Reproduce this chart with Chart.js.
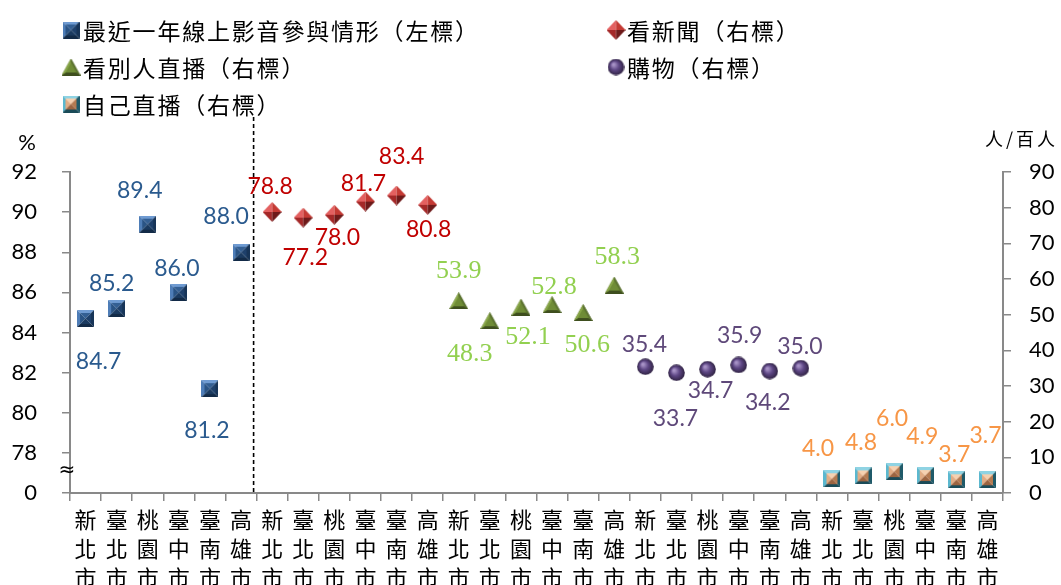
<!DOCTYPE html>
<html><head><meta charset="utf-8">
<script src="https://cdn.jsdelivr.net/npm/chart.js@4"></script>
<style>html,body{margin:0;padding:0;background:#fff;}canvas{display:block;}</style>
</head><body>
<canvas id="c" width="1061" height="585"></canvas>
<script>
// ---------- DATA ----------
const cities = ['新北市','臺北市','桃園市','臺中市','臺南市','高雄市'];
const seriesNames = ['最近一年線上影音參與情形（左標）','看新聞（右標）','看別人直播（右標）','購物（右標）','自己直播（右標）'];
const onlineAV = [84.7, 85.2, 89.4, 86.0, 81.2, 88.0];   // %, left axis
const news     = [78.8, 77.2, 78.0, 81.7, 83.4, 80.8];   // 人/百人, right axis
const watchLive= [53.9, 48.3, 52.1, 52.8, 50.6, 58.3];
const shopping = [35.4, 33.7, 34.7, 35.9, 34.2, 35.0];
const selfLive = [4.0, 4.8, 6.0, 4.9, 3.7, 3.7];
const leftTicks = [76, 78, 80, 82, 84, 86, 88, 90, 92]; // 76 shown as "0" (axis break)
const rightTicks = [0,10,20,30,40,50,60,70,80,90];

// ---------- STYLE ----------
const labelColors = ['#2A5A8E','#C00000','#92D050','#5F497A','#F79646'];
const labelOffsets = [
  [[13,43],[-5,-25],[-8,-34],[-2,-24],[-3,42],[-15,-36]],
  [[-2,-25],[2,40],[3,23],[-2,-18],[5,-39],[1,25]],
  [[0,-30],[-20,33],[7,30],[2,-18],[4,33],[3,-28]],
  [[-1,-22],[-1,46],[3,21],[1,-29],[-2,32],[-1,-22]],
  [[-14,-30],[-2,-33],[-2,-53],[-3,-39],[-2,-25],[-2,-44]]
];
const CJK = '"Noto Sans CJK TC","Noto Sans CJK SC",sans-serif';
const NUM = 'Lato, "Open Sans", sans-serif';

function mk(w,h,draw){const c=document.createElement('canvas');c.width=w;c.height=h;draw(c.getContext('2d'),w,h);return c;}
function poly(g,pts,f){g.beginPath();g.moveTo(pts[0][0],pts[0][1]);for(let i=1;i<pts.length;i++)g.lineTo(pts[i][0],pts[i][1]);g.closePath();g.fillStyle=f;g.fill();}
function bevelSquare(s,b,c){
  return mk(s,s,g=>{
    poly(g,[[0,0],[s,0],[s-b,b],[b,b]],c[0]);
    poly(g,[[0,0],[b,b],[b,s-b],[0,s]],c[1]);
    poly(g,[[s,0],[s,s],[s-b,s-b],[s-b,b]],c[2]);
    poly(g,[[0,s],[b,s-b],[s-b,s-b],[s,s]],c[3]);
    const m=s/2;
    poly(g,[[b,b],[s-b,b],[m,m]],c[4]);
    poly(g,[[b,b],[m,m],[b,s-b]],c[5]);
    poly(g,[[s-b,b],[s-b,s-b],[m,m]],c[6]);
    poly(g,[[b,s-b],[m,m],[s-b,s-b]],c[7]);
  });
}
const blueMark = bevelSquare(17,3,['#6F9BD2','#4E7DB7','#173457','#122A47','#335F93','#2A5485','#1E406B','#1A3A60']);
const orangeMark = bevelSquare(17,3,['#8FD3E3','#5BB8CF','#1F5A69','#1A4B58','#F6D1B0','#E2AC84','#B57A50','#9C6440']);
const redMark = mk(19,20,g=>{
  const mx=9.5, my=10;
  poly(g,[[mx,0],[0,my],[mx,my]],'#E36060');
  poly(g,[[mx,0],[mx,my],[19,my]],'#C43A34');
  poly(g,[[0,my],[mx,20],[mx,my]],'#A42828');
  poly(g,[[mx,my],[mx,20],[19,my]],'#6E1A1A');
});
const greenMark = mk(19,17,g=>{
  poly(g,[[9.5,0],[0,17],[19,17]],'#4B5E25');
  poly(g,[[9.5,0],[0,17],[9.5,11]],'#8AA84A');
  poly(g,[[9.5,0],[9.5,11],[19,17]],'#5C7330');
  poly(g,[[0,17],[9.5,11],[19,17]],'#3E4E1E');
  poly(g,[[9.5,4],[4,14],[15,14]],'#6F8C36');
});
const purpleMark = mk(17,17,g=>{
  const gr=g.createRadialGradient(6,6,1,8.5,8.5,8.5);
  gr.addColorStop(0,'#A792C6');gr.addColorStop(0.45,'#5E4785');gr.addColorStop(1,'#2E2140');
  g.beginPath();g.arc(8.5,8.5,8.3,0,Math.PI*2);g.fillStyle=gr;g.fill();
});
const marks = [blueMark, redMark, greenMark, purpleMark, orangeMark];

// ---------- BUILD ----------
const groups = [onlineAV, news, watchLive, shopping, selfLive];
const labels = [];
for (let gi=0; gi<groups.length; gi++) for (const c of cities) labels.push(c.split(''));
const datasets = groups.map((vals,gi)=>{
  const d = new Array(labels.length).fill(null);
  vals.forEach((v,i)=>{ d[gi*cities.length+i]=v; });
  return {label:seriesNames[gi], data:d, showLine:false, yAxisID: gi===0?'y':'y2',
    pointStyle:marks[gi], pointRadius:9, pointHoverRadius:9, backgroundColor:labelColors[gi], borderColor:labelColors[gi]};
});

const extras = {
  id:'extras',
  afterDraw(chart){
    const g=chart.ctx, ca=chart.chartArea, x=chart.scales.x;
    g.save();
    // dashed separator
    const xs = (x.getPixelForValue(5)+x.getPixelForValue(6))/2 - 3;
    g.strokeStyle='#000'; g.lineWidth=1.6; g.setLineDash([4,3]);
    g.beginPath(); g.moveTo(xs,117); g.lineTo(xs,ca.bottom); g.stroke();
    g.setLineDash([]);
    // break mark
    g.fillStyle='#000'; g.font='20px "DejaVu Sans"'; g.textAlign='center'; g.textBaseline='middle';
    g.fillText('≈', ca.left-3, 471);
    // axis titles
    g.font='22px '+NUM; g.fillText('%', 27, 143);
    g.font='18px '+CJK; g.textAlign='right';
    try{ g.letterSpacing='3px'; }catch(e){}
    g.fillText('人/百人', 1058, 139);
    try{ g.letterSpacing='0px'; }catch(e){}
    // data labels
    chart.data.datasets.forEach((ds,di)=>{
      const meta=chart.getDatasetMeta(di);
      g.fillStyle=labelColors[di];
      g.font = di===2 ? '26px "Liberation Serif"' : '23px '+NUM;
      g.textAlign='center'; g.textBaseline='middle';
      let k=0;
      ds.data.forEach((v,i)=>{
        if(v===null) return;
        const p=meta.data[i], o=labelOffsets[di][k++];
        g.fillText(v.toFixed(1), p.x+o[0], p.y+o[1]);
      });
    });
    // legend
    const pos=[[71,30],[616,30],[71,67],[616,67],[71,104]];
    g.font='23px '+CJK; g.fillStyle='#000'; g.textAlign='left'; g.textBaseline='middle';
    try{ g.letterSpacing='1.8px'; }catch(e){}
    seriesNames.forEach((n,i)=>{
      const m=marks[i], [px,py]=pos[i];
      g.drawImage(m, px-m.width/2, py-m.height/2);
      g.fillText(n, px+(i%2===0?12:11), py+1);
    });
    g.restore();
  }
};

const axisGrey='#898989';
new Chart(document.getElementById('c'),{
  type:'line',
  data:{labels, datasets},
  options:{
    responsive:false, animation:false, events:[],
    layout:{padding:{top:172,left:0,right:0,bottom:0}},
    plugins:{legend:{display:false}, tooltip:{enabled:false}},
    scales:{
      x:{ offset:true,
        grid:{offset:true, drawOnChartArea:false, drawTicks:true, tickLength:8, color:axisGrey, lineWidth:1.5},
        border:{color:axisGrey, width:2},
        ticks:{color:'#000', font:{family:CJK, size:22, lineHeight:29/22}, maxRotation:0, minRotation:0, autoSkip:false, padding:4},
        afterFit(s){ s.height=92; } },
      y:{ position:'left', min:76, max:92,
        afterBuildTicks(s){ s.ticks = leftTicks.map(v=>({value:v})); },
        ticks:{color:'#000', font:{family:NUM, size:22}, padding:25, callback:v=> v===76 ? '0' : String(v)},
        grid:{drawOnChartArea:false, tickLength:8, color:axisGrey, lineWidth:1.5},
        border:{color:axisGrey, width:2},
        afterFit(s){ s.width=70; } },
      y2:{ position:'right', min:0, max:90,
        afterBuildTicks(s){ s.ticks = rightTicks.map(v=>({value:v})); },
        ticks:{color:'#000', font:{family:NUM, size:22}, padding:18},
        grid:{drawOnChartArea:false, tickLength:8, color:axisGrey, lineWidth:1.5},
        border:{color:axisGrey, width:2},
        afterFit(s){ s.width=58; } }
    }
  },
  plugins:[extras]
});
</script>
</body></html>
